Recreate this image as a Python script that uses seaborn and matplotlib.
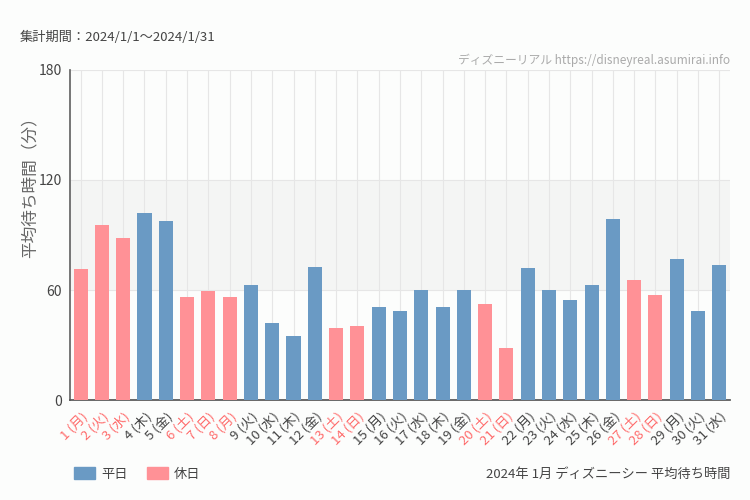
import matplotlib
matplotlib.use('Agg')
import matplotlib.pyplot as plt
from matplotlib.patches import Patch
import pandas as pd
import seaborn as sns

# データ
days = list(range(1, 32))
weekdays = ['月', '火', '水', '木', '金', '土', '日']
wait_minutes = [71.5, 95.5, 88.4, 102.0, 97.6, 56.2, 59.5, 56.2, 62.7, 42.0,
                34.9, 72.5, 39.3, 40.4, 50.7, 48.5, 60.0, 50.7, 60.0, 52.4,
                28.4, 72.0, 60.0, 54.5, 62.7, 98.7, 65.5, 57.3, 76.9, 48.5, 73.6]
holidays = [1, 2, 3, 6, 7, 8, 13, 14, 20, 21, 27, 28]

labels = [f"{d} ({weekdays[(d - 1) % 7]})" for d in days]
kinds = ['休日' if d in holidays else '平日' for d in days]
df = pd.DataFrame({'label': labels, 'wait': wait_minutes, 'kind': kinds})

blue = '#6a9ac4'
pink = '#ff9196'
red_text = '#ff6b6b'
bg = '#fcfdfc'

sns.set_theme(style='white')
plt.rcParams['font.family'] = ['Noto Sans CJK JP', 'DejaVu Sans']

fig = plt.figure(figsize=(7.5, 5), dpi=100, facecolor=bg)
ax = fig.add_axes([0.0933, 0.2, 0.88, 0.66])
ax.set_facecolor(bg)

# 60〜120の帯
ax.axhspan(60, 120, color='#f4f5f4', lw=0, zorder=0)

sns.barplot(data=df, x='label', y='wait', hue='kind', order=labels,
            palette={'平日': blue, '休日': pink}, dodge=False, width=0.66,
            saturation=1, linewidth=0, ax=ax, zorder=3, legend=False)

ax.set_xlim(-0.5, 30.5)
ax.set_ylim(0, 180)
ax.set_yticks([0, 60, 120, 180])
for i in range(len(days)):
    ax.axvline(i, color='#e6e6e6', lw=0.8, zorder=1)
for y in [60, 120, 180]:
    ax.axhline(y, color='#e6e6e6', lw=0.8, zorder=1)

for s in ['top', 'right']:
    ax.spines[s].set_visible(False)
ax.spines['left'].set_color('#666666')
ax.spines['bottom'].set_color('#555555')
ax.tick_params(axis='both', direction='out', length=4, width=1, color='#333333')
ax.tick_params(axis='y', labelsize=10, labelcolor='#444444', pad=2)
ax.tick_params(axis='x', labelsize=9.5, pad=3)

ax.set_xticks(range(len(labels)))
ax.set_xticklabels(labels, rotation=45, ha='right', rotation_mode='anchor')
for d, lab in zip(days, ax.get_xticklabels()):
    lab.set_color(red_text if d in holidays else '#444444')

ax.set_xlabel('')
ax.set_ylabel('')
fig.text(0.04, 0.634, '平均待ち時間（分）', rotation=90, ha='center', va='center',
         fontsize=12, color='#666666')

fig.text(20 / 750, 1 - 37 / 500, '集計期間：2024/1/1〜2024/1/31', ha='left', va='center',
         fontsize=9.5, color='#444444')
fig.text(730 / 750, 1 - 60 / 500, 'ディズニーリアル https://disneyreal.asumirai.info',
         ha='right', va='center', fontsize=8.5, color='#aaaaaa')
fig.text(730 / 750, 1 - 474 / 500, '2024年 1月 ディズニーシー 平均待ち時間',
         ha='right', va='center', fontsize=9.5, color='#444444')

handles = [Patch(color=blue, label='平日'), Patch(color=pink, label='休日')]
fig.legend(handles=handles, loc='center left', bbox_to_anchor=(62 / 750, 1 - 474 / 500),
           ncol=2, frameon=False, fontsize=9.5, handlelength=1.6, handleheight=1.0,
           columnspacing=1.4, handletextpad=0.5, labelcolor='#444444')

fig.savefig('out.png', dpi=100, facecolor=bg)
